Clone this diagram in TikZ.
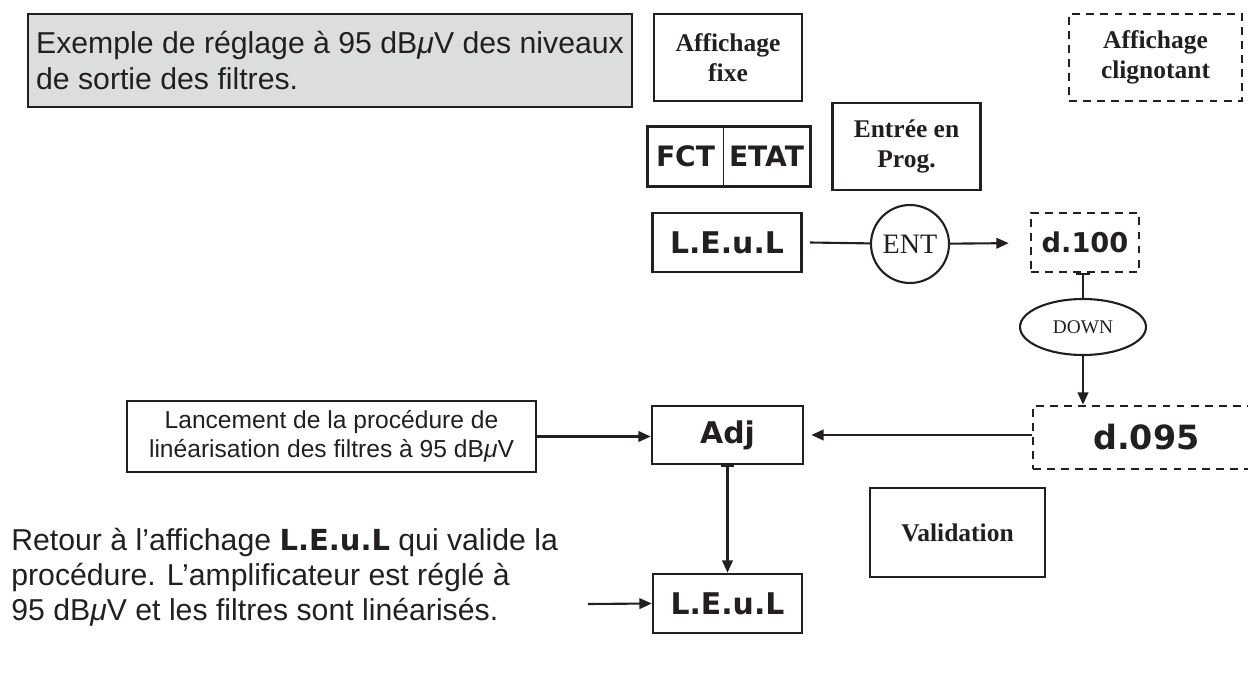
\documentclass[tikz,border=0pt]{standalone}
\usepackage{fontspec}
\setmainfont{Liberation Sans}
\newfontfamily\seriffont{Liberation Serif}
\newfontfamily\digitfont{DejaVu Sans}
\usetikzlibrary{arrows.meta,shapes.geometric}
\definecolor{ink}{HTML}{231F20}
\definecolor{panel}{HTML}{DCDDDF}
\newcommand{\dbuv}{dB{\itshape μ}V}

\begin{document}
\begin{tikzpicture}[x=0.02cm, y=-0.02cm, >={Triangle[length=7pt,width=6pt]}]
        \tikzstyle{every node}=[inner sep=0pt, text=ink]
        \tikzstyle{panelbox}=[draw=ink, line width=1.5pt, minimum width=2.98cm, minimum height=1.18cm, font=\digitfont\bfseries\fontsize{17}{20}\selectfont]
        \tikzstyle{blinkbox}=[panelbox, dash pattern=on 4.5pt off 3.5pt]
        \tikzstyle{legendbox}=[draw=ink, line width=1.5pt, minimum width=2.96cm, minimum height=1.74cm, align=center, font=\seriffont\bfseries\fontsize{14.5}{17}\selectfont]
        \tikzstyle{fctcell}=[minimum height=1.18cm, font=\digitfont\bfseries\fontsize{16}{19}\selectfont]
        \tikzstyle{keycap}=[draw=ink, line width=1.2pt, font=\seriffont]
        \tikzstyle{note}=[align=left, font=\fontsize{17.2}{20}\selectfont]
        \tikzstyle{wire}=[draw=ink, line width=1.2pt]

        \useasboundingbox (0,0) rectangle (1248,679);

        \node   (intro)  [draw=ink, line width=1.2pt, fill=panel, minimum width=12.08cm, minimum height=1.86cm, note] at (330,60.5) {Exemple de réglage à 95 \dbuv{} des niveaux\\de sortie des filtres.};

        \node   (fixe)   [legendbox] at (728,57.5) {Affichage\\fixe};
        \node   (cligno) [legendbox, minimum width=3.46cm, dash pattern=on 4.5pt off 3.5pt] at (1155.5,57.5) {Affichage\\clignotant};
        \node   (entree) [legendbox] at (906.5,146.5) {Entrée en\\Prog.};
        \node   (valid)  [legendbox, minimum width=3.5cm, minimum height=1.78cm] at (957.5,532.5) {Validation};

        \node   (fct)    [fctcell, minimum width=1.5cm] at (685.5,156.5) {FCT};
        \node   (etat)   [fctcell, minimum width=1.74cm] at (766.5,156.5) {ETAT};
        \draw[ink, line width=1.5pt] (fct.north west) rectangle (etat.south east);
        \draw[ink, line width=0.5pt] (fct.north east) -- (fct.south east);

        \node   (leul)   [panelbox] at (727,242.5) {L.E.u.L};
        \node   (ent)    [keycap, circle, minimum size=1.56cm, font=\seriffont\fontsize{16}{19}\selectfont] at (910,244) {ENT};
        \node   (d100)   [blinkbox, minimum width=2.16cm, font=\digitfont\bfseries\fontsize{15.5}{19}\selectfont] at (1085,242.5) {d.100};
        \node   (down)   [keycap, ellipse, minimum width=2.52cm, minimum height=1.12cm, font=\seriffont\fontsize{11}{13}\selectfont] at (1083,327) {DOWN};
        \node   (d095)   [blinkbox, minimum width=4.54cm, minimum height=1.26cm, font=\digitfont\bfseries\fontsize{19}{22}\selectfont] at (1146.5,437.5) {d.095};
        \node   (adj)    [panelbox, minimum width=3.02cm, minimum height=1.16cm] at (727.5,435) {Adj};
        \node   (lance)  [draw=ink, line width=1.2pt, minimum width=8.18cm, minimum height=1.42cm, align=center, font=\fontsize{14}{16.5}\selectfont] at (331.5,436.5) {Lancement de la procédure de\\linéarisation des filtres à 95 \dbuv};
        \node   (leulb)  [panelbox] at (727.5,603.5) {L.E.u.L};
        \node   (retour) [note, anchor=north west] at (11,528) {Retour à l’affichage {\digitfont\bfseries\fontsize{16.5}{20}\selectfont L.E.u.L} qui valide la\\procédure. L’amplificateur est réglé à\\95 \dbuv{} et les filtres sont linéarisés.};
        \coordinate (back) at (588,604);

        \draw[wire] ([xshift=0.14cm]leul.east) -- (ent);
        \draw[wire, ->, shorten >=0.42cm] (ent) -- (d100);
        \draw[wire, |-] (d100.south -| down) -- (down.north);
        \draw[wire, ->] (down.south) -- (down.south |- d095.north);
        \draw[wire, ->, shorten >=0.14cm] (d095.west |- adj) -- (adj.east);
        \draw[wire, ->] (lance.east) -- (lance.east -| adj.west);
        \draw[wire, |->] (adj.south) -- (leulb.north);
        \draw[wire, ->] (back) -- (leulb.west);

    \end{tikzpicture}
\end{document}
